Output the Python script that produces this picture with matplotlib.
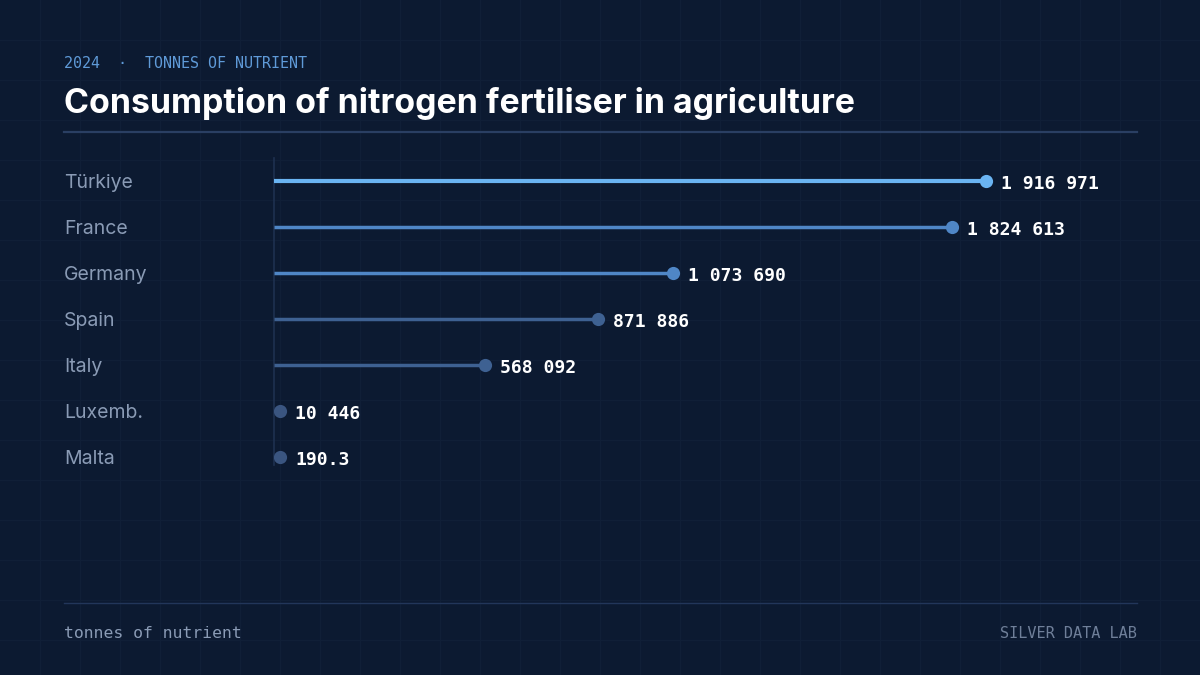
import numpy as np
import matplotlib.pyplot as plt

# data
countries = ["Türkiye", "France", "Germany", "Spain", "Italy", "Luxemb.", "Malta"]
values = [1916971, 1824613, 1073690, 871886, 568092, 10446, 190.3]
value_labels = ["1 916 971", "1 824 613", "1 073 690", "871 886", "568 092", "10 446", "190.3"]
line_colors = ["#6ab4f2", "#4f86c6", "#4f86c6", "#3e6192", "#3e6192", "#3a5580", "#3a5580"]

BG = "#0c1a31"
W, H = 1200, 675
fig = plt.figure(figsize=(12, 6.75), dpi=100, facecolor=BG)

# background grid, in pixel units
bg = fig.add_axes([0, 0, 1, 1])
bg.set_xlim(0, W)
bg.set_ylim(H, 0)
bg.set_facecolor(BG)
for gx in range(40, W, 40):
    bg.axvline(gx, color="#101f37", lw=1, zorder=0)
for gy in range(40, H, 40):
    bg.axhline(gy, color="#101f37", lw=1, zorder=0)
bg.axis("off")

# header / footer rules
bg.plot([64, 1137], [132, 132], color="#2a3f63", lw=1.6)
bg.plot([64, 1137], [603, 603], color="#22365a", lw=1)

mono = "DejaVu Sans Mono"
fig.text(64 / W, 1 - 63 / H, "2024  ·  TONNES OF NUTRIENT", color="#5f9ad8",
         fontsize=10.8, family=mono, va="center", ha="left")
fig.text(64 / W, 1 - 103 / H, "Consumption of nitrogen fertiliser in agriculture",
         color="white", fontsize=24.4, family="Inter", fontweight="bold",
         va="center", ha="left")
fig.text(64 / W, 1 - 634 / H, "tonnes of nutrient", color="#8a9bb5",
         fontsize=11.8, family=mono, va="center", ha="left")
fig.text(1137 / W, 1 - 634 / H, "SILVER DATA LAB", color="#6f7f99",
         fontsize=11, family=mono, va="center", ha="right")

# chart axes: left edge at x=274px, rows 46px apart starting at y=181
left_px, right_px = 274, 1137
top_px, bot_px = 158, 158 + 46 * 7
ax = fig.add_axes([left_px / W, 1 - bot_px / H, (right_px - left_px) / W, (bot_px - top_px) / H])
xmax = values[0] * (right_px - left_px) / (986 - left_px)
ax.set_xlim(0, xmax)
ax.set_ylim(len(countries) - 0.5, -0.5)
ax.axis("off")
ax.patch.set_alpha(0)

ax.plot([0, 0], [-0.5, 6.17], color="#1e3050", lw=1.2, zorder=1, clip_on=False)

floor = xmax * 6 / (right_px - left_px)  # keep tiny dots off the axis line
y = np.arange(len(countries))
for i, (c, v, lab, col) in enumerate(zip(countries, values, value_labels, line_colors)):
    xv = max(v, floor)
    lw = 3 if i == 0 else 2.5
    if v > floor:
        ax.plot([0, xv], [i, i], color=col, lw=lw, solid_capstyle="butt", zorder=2)
    ax.plot(xv, i, "o", color=col, markersize=9.5, markeredgewidth=0, zorder=3)
    ax.annotate(lab, (xv, i), xytext=(11, -2), textcoords="offset points",
                color="white", fontsize=13, family=mono, fontweight="bold",
                va="center", ha="left")
    fig.text(64 / W, 1 - (183 + 46 * i) / H, c, color="#8a9bb5", fontsize=14,
             family="Inter", va="center", ha="left")

fig.savefig("out.png", dpi=100, facecolor=BG)
